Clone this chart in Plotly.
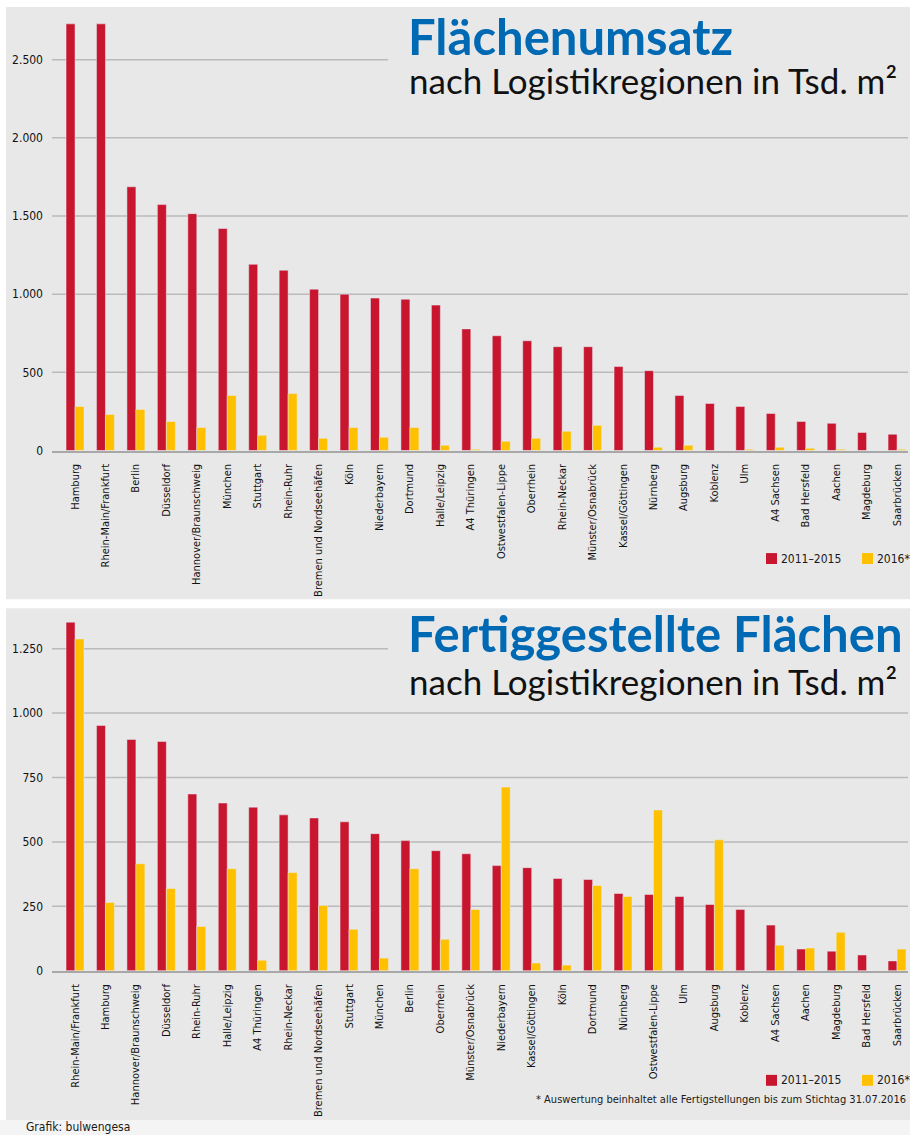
import plotly.graph_objects as go

# Flächenumsatz (oberes Diagramm)
regions_top = ["Hamburg", "Rhein-Main/Frankfurt", "Berlin", "Düsseldorf", "Hannover/Braunschweig",
               "München", "Stuttgart", "Rhein-Ruhr", "Bremen und Nordseehäfen", "Köln",
               "Niederbayern", "Dortmund", "Halle/Leipzig", "A4 Thüringen", "Ostwestfalen-Lippe",
               "Oberrhein", "Rhein-Neckar", "Münster/Osnabrück", "Kassel/Göttingen", "Nürnberg",
               "Augsburg", "Koblenz", "Ulm", "A4 Sachsen", "Bad Hersfeld",
               "Aachen", "Magdeburg", "Saarbrücken"]
umsatz_2011_2015 = [2729, 2729, 1687, 1573, 1515, 1420, 1191, 1153, 1032, 1000,
                    975, 968, 930, 778, 734, 702, 664, 664, 537, 511,
                    352, 301, 282, 237, 186, 174, 116, 104]
umsatz_2016 = [282, 231, 263, 186, 148, 352, 97, 364, 78, 148,
               85, 148, 34, 8, 59, 78, 123, 161, 0, 21,
               34, 0, 8, 21, 15, 8, 0, 8]

# Fertiggestellte Flächen (unteres Diagramm)
regions_bottom = ["Rhein-Main/Frankfurt", "Hamburg", "Hannover/Braunschweig", "Düsseldorf", "Rhein-Ruhr",
                  "Halle/Leipzig", "A4 Thüringen", "Rhein-Neckar", "Bremen und Nordseehäfen", "Stuttgart",
                  "München", "Berlin", "Oberrhein", "Münster/Osnabrück", "Niederbayern",
                  "Kassel/Göttingen", "Köln", "Dortmund", "Nürnberg", "Ostwestfalen-Lippe",
                  "Ulm", "Augsburg", "Koblenz", "A4 Sachsen", "Aachen",
                  "Magdeburg", "Bad Hersfeld", "Saarbrücken"]
fertig_2011_2015 = [1353, 952, 898, 890, 686, 651, 635, 605, 593, 578,
                    532, 505, 466, 454, 408, 400, 358, 354, 300, 296,
                    288, 257, 238, 177, 84, 76, 61, 38]
fertig_2016 = [1288, 265, 415, 319, 172, 396, 41, 381, 253, 161,
               49, 396, 122, 238, 713, 30, 22, 331, 288, 624,
               0, 508, 0, 99, 88, 149, 0, 84]

top_ticks = [0, 500, 1000, 1500, 2000, 2500]
bottom_ticks = [0, 250, 500, 750, 1000, 1250]
series_names = ["2011–2015", "2016*"]

RED = "#c8162f"
YELLOW = "#ffc000"
BLUE = "#0069b4"
PANEL = "#e8e8e8"
GRID = "#bababa"
COND = "Liberation Sans Narrow, DejaVu Sans Condensed, Roboto Condensed, sans-serif"
TITLE = "Lato, Open Sans, sans-serif"
W, H = 910, 1142


def px(x):
    return x / W


def py(y):
    return 1 - y / H


fig = go.Figure()
fig.add_trace(go.Bar(x=regions_top, y=umsatz_2011_2015, name=series_names[0], marker_color=RED,
                     xaxis="x", yaxis="y"))
fig.add_trace(go.Bar(x=regions_top, y=umsatz_2016, name=series_names[1], marker_color=YELLOW,
                     xaxis="x", yaxis="y"))
fig.add_trace(go.Bar(x=regions_bottom, y=fertig_2011_2015, name=series_names[0], marker_color=RED,
                     xaxis="x2", yaxis="y2"))
fig.add_trace(go.Bar(x=regions_bottom, y=fertig_2016, name=series_names[1], marker_color=YELLOW,
                     xaxis="x2", yaxis="y2"))

n = len(regions_top)
xrange = [-0.756, n - 1 + 0.36]
xfont = dict(family=COND, size=11, color="#111111")
yfont = dict(family=COND, size=12, color="#111111")

xcommon = dict(type="category", range=xrange, domain=[px(52), px(908)], tickangle=-90,
               showgrid=False, showline=True, linecolor="#a8a8a8", linewidth=2,
               ticks="", tickfont=xfont, ticklabelstandoff=7, fixedrange=True)
ycommon = dict(showgrid=False, zeroline=False, ticks="", tickfont=yfont,
               separatethousands=True, ticklabelstandoff=8, fixedrange=True)

fig.update_layout(
    width=W, height=H,
    margin=dict(l=0, r=0, t=0, b=0),
    paper_bgcolor="white",
    plot_bgcolor="rgba(0,0,0,0)",
    separators=",.",
    barmode="group",
    bargap=0.41,
    bargroupgap=0,
    showlegend=False,
    font=dict(family=COND, color="#1a1a1a"),
    xaxis=dict(xcommon, anchor="y"),
    yaxis=dict(ycommon, anchor="x", domain=[py(453.3), py(20.7)], range=[0, 2750],
               tickvals=top_ticks),
    xaxis2=dict(xcommon, anchor="y2"),
    yaxis2=dict(ycommon, anchor="x2", domain=[py(976.7), py(621.6)], range=[0, 1370],
                tickvals=bottom_ticks),
)

shapes = [
    dict(type="rect", xref="paper", yref="paper", x0=px(6), x1=1, y0=py(603), y1=py(7),
         fillcolor=PANEL, line_width=0, layer="below"),
    dict(type="rect", xref="paper", yref="paper", x0=px(6), x1=1, y0=py(1127), y1=py(612),
         fillcolor=PANEL, line_width=0, layer="below"),
    dict(type="rect", xref="paper", yref="paper", x0=0, x1=1, y0=0, y1=py(1127),
         fillcolor="#f4f4f4", line_width=0, layer="below"),
]
# Gitterlinien; die oberste endet vor dem Titel
for ticks, yref in [(top_ticks, "y"), (bottom_ticks, "y2")]:
    for t in ticks[1:]:
        x1 = px(388) if t == ticks[-1] else px(908)
        shapes.append(dict(type="line", xref="paper", yref=yref, x0=px(52), x1=x1, y0=t, y1=t,
                           line=dict(color=GRID, width=1.5), layer="below"))

annotations = [
    dict(text="<b>Flächenumsatz</b>", x=px(406), y=py(36), font=dict(family=TITLE, size=49, color=BLUE)),
    dict(text="nach Logistikregionen in Tsd. m²", x=px(407), y=py(80),
         font=dict(family=TITLE, size=35, color="#111111")),
    dict(text="<b>Fertiggestellte Flächen</b>", x=px(406), y=py(637),
         font=dict(family=TITLE, size=49, color=BLUE)),
    dict(text="nach Logistikregionen in Tsd. m²", x=px(407), y=py(685),
         font=dict(family=TITLE, size=35, color="#111111")),
    dict(text="Grafik: bulwengesa", x=px(24), y=py(1134), font=dict(family=COND, size=12, color="#1a1a1a")),
]

# Legenden (Quadrat + Text) fuer beide Diagramme
for yc in [562, 1087]:
    for name, color, xs in zip(series_names, [RED, YELLOW], [766, 862]):
        shapes.append(dict(type="rect", xref="paper", yref="paper", x0=px(xs), x1=px(xs + 11),
                           y0=py(yc + 5.5), y1=py(yc - 5.5), fillcolor=color, line_width=0))
        annotations.append(dict(text=name, x=px(xs + 13), y=py(yc), font=dict(family=COND, size=12,
                                                                               color="#1a1a1a")))

for a in annotations:
    a.update(xref="paper", yref="paper", xanchor="left", yanchor="middle", showarrow=False)
annotations.append(dict(text="* Auswertung beinhaltet alle Fertigstellungen bis zum Stichtag 31.07.2016",
                        x=px(908), y=py(1106), xref="paper", yref="paper", xanchor="right",
                        yanchor="middle", showarrow=False, font=dict(family=COND, size=11, color="#1a1a1a")))
fig.update_layout(shapes=shapes, annotations=annotations)

# remove the default page margin so the 910x1142 figure fills the window exactly
fig.write_html("out.html", config={"displayModeBar": False},
               post_script="document.body.style.margin='0';"
                           "document.documentElement.style.overflow='hidden';")
